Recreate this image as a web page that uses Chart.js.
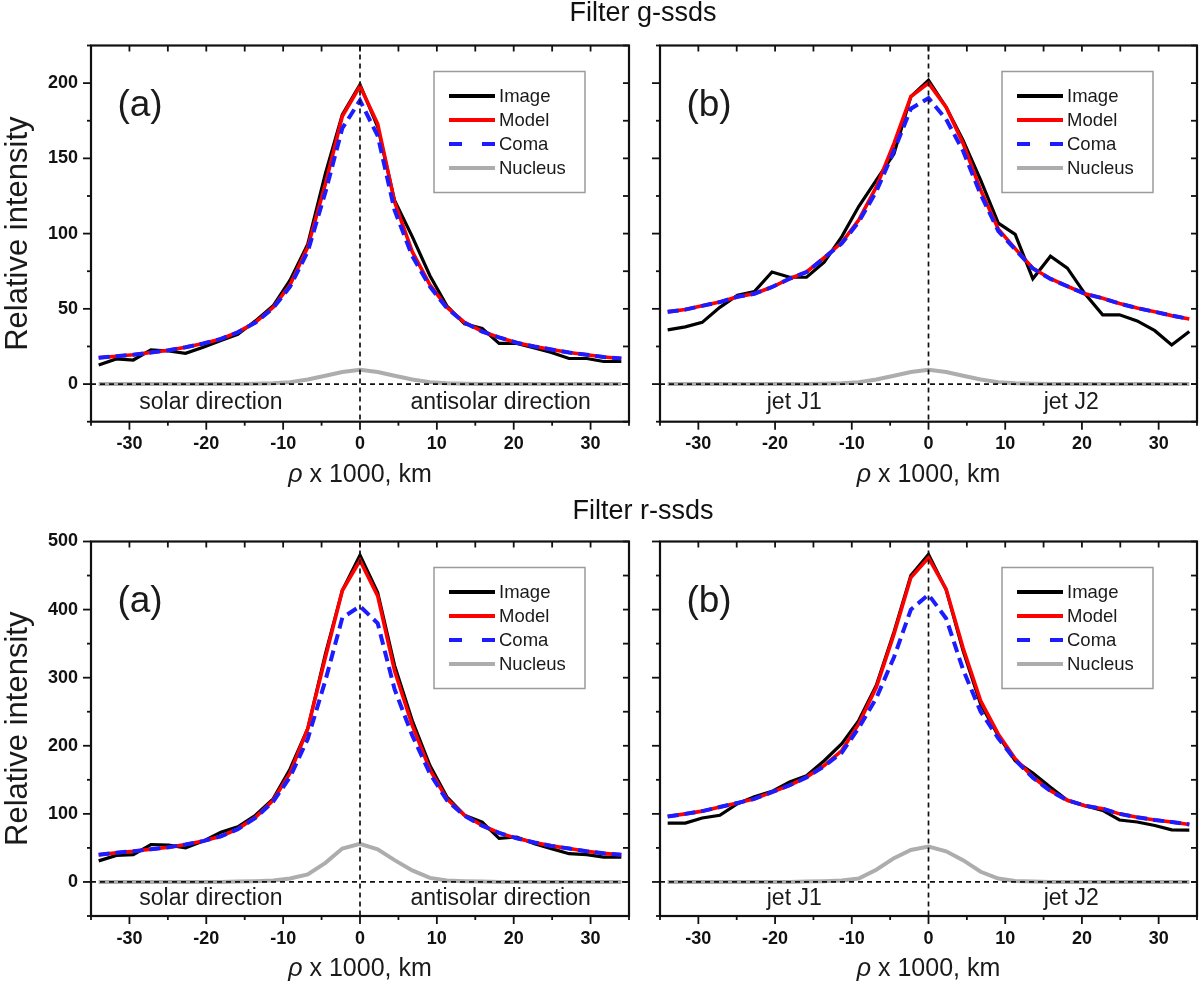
<!DOCTYPE html>
<html>
<head>
<meta charset="utf-8">
<script src="https://cdn.jsdelivr.net/npm/chart.js@4.4.1/dist/chart.umd.min.js"></script>
<style>
  body { margin: 0; background: #fff; width: 1200px; height: 984px; position: relative; overflow: hidden;
         font-family: Arial, "Liberation Sans", Helvetica, sans-serif; }
  canvas { position: absolute; left: 0; top: 0; }
  .ftitle { position: absolute; left: 643px; transform: translateX(-50%); font-size: 27px; line-height: 1;
            color: #111; white-space: nowrap; }
</style>
</head>
<body>
<canvas id="gA" width="1200" height="984"></canvas>
<canvas id="gB" width="1200" height="984"></canvas>
<canvas id="rA" width="1200" height="984"></canvas>
<canvas id="rB" width="1200" height="984"></canvas>
<div class="ftitle" style="top:-1px">Filter g-ssds</div>
<div class="ftitle" style="top:497px">Filter r-ssds</div>
<script>
// projected distance, thousands of km
const rho = [-34, -31.7, -29.5, -27.2, -24.9, -22.7, -20.4, -18.1, -15.9, -13.6, -11.3, -9.1, -6.8, -4.5, -2.3, 0,
             2.3, 4.5, 6.8, 9.1, 11.3, 13.6, 15.9, 18.1, 20.4, 22.7, 24.9, 27.2, 29.5, 31.7, 34];

const xTicks = [-30, -20, -10, 0, 10, 20, 30];
const gYTicks = [0, 50, 100, 150, 200];
const rYTicks = [0, 100, 200, 300, 400, 500];

// Filter g-ssds, (a) solar / antisolar
const gImageA = [12.7, 16.7, 16, 22.7, 22, 20.4, 24.4, 29, 33, 42, 52, 69, 93, 140, 179, 199,
                 171, 122, 98, 72, 52, 40, 37, 27, 27, 24, 21, 17, 17, 15, 15];
const gModelA = [17.5, 18.5, 19.5, 21, 22.5, 24.5, 27, 30, 34.5, 41, 51, 66, 91, 133, 178, 198,
                 173, 121, 88, 66, 51, 41, 35, 31, 27.5, 25, 23, 21, 19.5, 18, 17];
const gComaA = [17.5, 18.5, 19.5, 21, 22.5, 24.5, 27, 30, 34.4, 40.8, 50.5, 64.7, 88, 127.5, 170, 188.5,
                165, 115.5, 85, 64.7, 50.5, 40.8, 34.9, 31, 27.5, 25, 23, 21, 19.5, 18, 17];
const gNucleusA = [0, 0, 0, 0, 0, 0, 0, 0, 0.1, 0.2, 0.5, 1.3, 3, 5.5, 8, 9.5,
                   8, 5.5, 3, 1.3, 0.5, 0.2, 0.1, 0, 0, 0, 0, 0, 0, 0, 0];

// Filter g-ssds, (b) jets
const gImageB = [36, 38, 41, 51, 59, 61.5, 74.5, 71, 71, 81, 98, 118, 135.5, 153, 191, 202,
                 184, 162, 135.5, 107, 99.5, 70, 85, 77, 60, 46, 46, 42, 35.5, 26, 35];
const gModelB = [48, 49.5, 52, 54.5, 58, 60, 64.5, 70, 74.5, 84, 94, 109, 131, 160, 191, 200,
                 184, 160, 129, 103, 90, 77, 70, 65, 60, 57, 53.5, 50.5, 48, 45.5, 43.3];
const gComaB = [48, 49.5, 52, 54.5, 58, 60, 64.5, 70, 74.4, 83.8, 93.5, 107.7, 128, 155, 183, 190,
                176, 155, 126, 101.7, 89.5, 76.8, 69.9, 65, 60, 57, 53.5, 50.5, 48, 45.5, 43.3];
const gNucleusB = [0, 0, 0, 0, 0, 0, 0, 0, 0.1, 0.2, 0.5, 1.3, 3, 5.5, 8, 9.5,
                   8, 5.5, 3, 1.3, 0.5, 0.2, 0.1, 0, 0, 0, 0, 0, 0, 0, 0];

// Filter r-ssds, (a) solar / antisolar
const rImageA = [31, 39, 40, 55, 54, 50, 60, 73, 81, 98, 122, 166, 225, 335, 428, 480,
                 425, 318, 237, 171, 125, 98, 88, 64, 66, 56, 49, 41.5, 40, 36.5, 36.5];
const rModelA = [40, 43, 45, 48, 51, 55, 60, 67, 78, 95, 120, 160, 225, 330, 428, 472,
                 420, 310, 230, 165, 122, 98, 83, 72, 64, 58, 53, 49, 45, 42, 40];
const rComaA = [40, 43, 45, 48, 51, 55, 60, 67, 77.5, 94, 118, 154, 210, 296, 388, 405,
                380, 283, 215, 159, 120, 97, 82.5, 72, 64, 58, 53, 49, 45, 42, 40];
const rNucleusA = [0, 0, 0, 0, 0, 0, 0, 0, 0.5, 1, 2, 5, 11, 28, 49, 56,
                   48, 32, 17, 6, 2, 1, 0.5, 0, 0, 0, 0, 0, 0, 0, 0];

// Filter r-ssds, (b) jets
const rImageB = [86.5, 86.5, 94, 98, 115, 125, 133, 147, 156, 178, 203, 237, 289, 367, 450, 481,
                 429, 340, 261, 215, 178, 160, 139, 120, 112, 105, 91, 88, 83, 76.5, 76];
const rModelB = [96, 100, 104, 110, 116, 122, 132, 142, 154, 171, 193, 232, 286, 364, 447, 476,
                 430, 344, 266, 217, 181, 154, 134, 120, 112, 107.5, 100, 95, 91, 88, 84.5];
const rComaB = [96, 100, 104, 110, 116, 122, 132, 142, 153.5, 170, 190, 226, 270, 330, 400, 422,
                387, 312, 250, 211, 179, 153, 133.5, 120, 112, 107.5, 100, 95, 91, 88, 84.5];
const rNucleusB = [0, 0, 0, 0, 0, 0, 0, 0, 0.5, 1, 2, 5, 18, 35, 47, 52,
                   45, 32, 15, 5, 1.5, 0.5, 0, 0, 0, 0, 0, 0, 0, 0, 0];

const FONT = 'Arial, "Liberation Sans", Helvetica, sans-serif';
Chart.defaults.font.family = FONT;

const legendOrder = ['Image', 'Model', 'Coma', 'Nucleus'];

function line(ctx, x1, y1, x2, y2) {
  ctx.beginPath();
  ctx.moveTo(x1, y1);
  ctx.lineTo(x2, y2);
  ctx.stroke();
}

// frame, ticks, dashed zero lines, notes, legend and the x title
const decor = {
  id: 'decor',
  afterDraw(chart, args, o) {
    const { ctx, chartArea: ca, scales: { x, y } } = chart;
    ctx.save();
    ctx.strokeStyle = '#111';

    const x0 = x.getPixelForValue(0);
    const y0 = y.getPixelForValue(0);
    ctx.lineWidth = 1.7;
    ctx.setLineDash([5, 4]);
    line(ctx, ca.left, y0, ca.right, y0);
    line(ctx, x0, ca.top, x0, ca.bottom);
    ctx.setLineDash([]);

    ctx.lineWidth = 2.2;
    ctx.strokeRect(ca.left, ca.top, ca.width, ca.height);

    ctx.lineWidth = 1.8;
    for (let v = x.min; v <= x.max; v += 5) {
      const px = x.getPixelForValue(v);
      line(ctx, px, ca.bottom, px, ca.bottom + (v % 10 === 0 ? 8 : 4));
      line(ctx, px, ca.top, px, ca.top + 6);
    }
    for (let v = y.min; v <= y.max; v += o.yStep) {
      const py = y.getPixelForValue(v);
      line(ctx, ca.left - (o.yMajor.includes(v) ? 8 : 4), py, ca.left, py);
      line(ctx, ca.right - 6, py, ca.right, py);
    }

    ctx.fillStyle = '#1a1a1a';
    ctx.textAlign = 'center';
    ctx.textBaseline = 'middle';
    ctx.font = '37px ' + FONT;
    ctx.fillText(o.tag, ca.left + 49, ca.top + 60);

    ctx.font = '23px ' + FONT;
    const yNote = (y0 + ca.bottom) / 2;
    o.notes.forEach(n => ctx.fillText(n.text, x.getPixelForValue(n.x), yNote));

    // x title with italic rho
    ctx.textAlign = 'left';
    ctx.textBaseline = 'alphabetic';
    const rest = ' x 1000, km';
    ctx.font = 'italic 25px ' + FONT;
    const w1 = ctx.measureText('\u03C1').width;
    ctx.font = '25px ' + FONT;
    const w2 = ctx.measureText(rest).width;
    const sx = (ca.left + ca.right) / 2 - (w1 + w2) / 2;
    const by = ca.bottom + 60;
    ctx.font = 'italic 25px ' + FONT;
    ctx.fillText('\u03C1', sx, by);
    ctx.font = '25px ' + FONT;
    ctx.fillText(rest, sx + w1, by);

    // legend
    const bx = ca.right - 195, bt = ca.top + 26;
    ctx.fillStyle = '#fff';
    ctx.fillRect(bx, bt, 151, 121);
    ctx.strokeStyle = '#9a9a9a';
    ctx.lineWidth = 1.5;
    ctx.strokeRect(bx, bt, 151, 121);
    ctx.font = '18.5px ' + FONT;
    ctx.textBaseline = 'middle';
    legendOrder.forEach((label, i) => {
      const ds = chart.data.datasets.find(d => d.label === label);
      const ly = bt + 24.5 + i * 24;
      ctx.strokeStyle = ds.borderColor;
      ctx.lineWidth = 4;
      ctx.setLineDash(ds.borderDash ? [13, 20] : []);
      line(ctx, bx + 15, ly, bx + 61, ly);
      ctx.setLineDash([]);
      ctx.fillStyle = '#1a1a1a';
      ctx.fillText(label, bx + 65, ly + 1);
    });
    ctx.restore();
  }
};

function pts(vals) {
  return rho.map((r, i) => ({ x: r, y: vals[i] }));
}

function makePanel(id, p) {
  new Chart(document.getElementById(id), {
    type: 'line',
    data: {
      datasets: [
        { label: 'Coma', data: pts(p.coma), borderColor: '#1c1cff', borderWidth: 4, borderDash: [11, 6] },
        { label: 'Model', data: pts(p.model), borderColor: '#ff0000', borderWidth: 3.6 },
        { label: 'Image', data: pts(p.image), borderColor: '#000000', borderWidth: 3.2 },
        { label: 'Nucleus', data: pts(p.nucleus), borderColor: '#adadad', borderWidth: 4 }
      ]
    },
    options: {
      responsive: false,
      animation: false,
      events: [],
      elements: { point: { radius: 0 }, line: { tension: 0 } },
      layout: { padding: { left: p.L - 91, top: p.T, right: 1200 - p.R, bottom: 984 - p.B - 45 } },
      plugins: {
        legend: { display: false },
        tooltip: { enabled: false },
        decor: { tag: p.tag, notes: p.notes, yMajor: p.yTicks, yStep: p.yStep }
      },
      scales: {
        x: {
          type: 'linear', min: -35, max: 35,
          afterFit: s => { s.height = 45; },
          afterBuildTicks: s => { s.ticks = xTicks.map(v => ({ value: v })); },
          grid: { display: false, drawTicks: false },
          border: { display: false },
          ticks: { padding: 12, autoSkip: false, maxRotation: 0, color: '#111',
                   font: { size: 18, weight: 'bold' } }
        },
        y: {
          type: 'linear', min: p.yMin, max: p.yMax,
          afterFit: s => { s.width = 91; },
          afterBuildTicks: s => { s.ticks = p.yTicks.map(v => ({ value: v })); },
          grid: { display: false, drawTicks: false },
          border: { display: false },
          ticks: { display: p.showY, padding: 13, autoSkip: false, color: '#111',
                   font: { size: 18, weight: 'bold' } },
          title: { display: p.showY, text: 'Relative intensity', color: '#1a1a1a', padding: 0,
                   font: { size: 31 } }
        }
      }
    },
    plugins: [decor]
  });
}

const sunNotes = [{ text: 'solar direction', x: -19.4 }, { text: 'antisolar direction', x: 18.3 }];
const jetNotes = [{ text: 'jet J1', x: -17.5 }, { text: 'jet J2', x: 18.6 }];

makePanel('gA', { L: 91, T: 45.5, R: 629, B: 421.7, yMin: -25, yMax: 225, yStep: 25, yTicks: gYTicks, showY: true,
  tag: '(a)', notes: sunNotes, image: gImageA, model: gModelA, coma: gComaA, nucleus: gNucleusA });
makePanel('gB', { L: 660, T: 45.5, R: 1197, B: 421.7, yMin: -25, yMax: 225, yStep: 25, yTicks: gYTicks, showY: false,
  tag: '(b)', notes: jetNotes, image: gImageB, model: gModelB, coma: gComaB, nucleus: gNucleusB });
makePanel('rA', { L: 91, T: 541.5, R: 629, B: 916, yMin: -50, yMax: 500, yStep: 50, yTicks: rYTicks, showY: true,
  tag: '(a)', notes: sunNotes, image: rImageA, model: rModelA, coma: rComaA, nucleus: rNucleusA });
makePanel('rB', { L: 660, T: 541.5, R: 1197, B: 916, yMin: -50, yMax: 500, yStep: 50, yTicks: rYTicks, showY: false,
  tag: '(b)', notes: jetNotes, image: rImageB, model: rModelB, coma: rComaB, nucleus: rNucleusB });
</script>
</body>
</html>
